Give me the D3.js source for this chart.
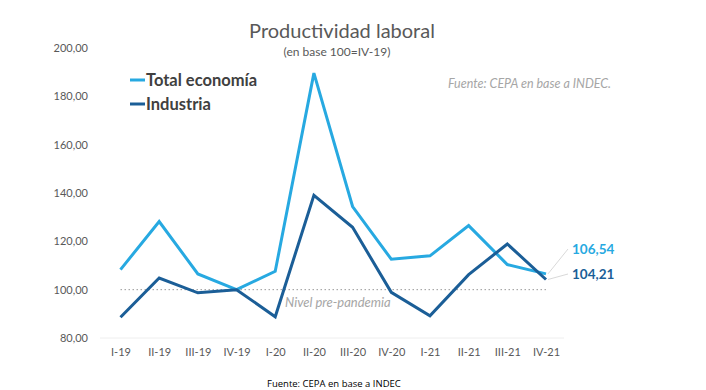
<!DOCTYPE html>
<html>
<head>
<meta charset="utf-8">
<script src="https://cdn.jsdelivr.net/npm/d3@7"></script>
<style>
  body { margin: 0; background: #fff; }
  svg { display: block; font-family: Lato, "Open Sans", sans-serif; }
</style>
</head>
<body>
<svg id="canvas" width="706" height="390"></svg>
<script>
// dati
const trimestri = ["I-19", "II-19", "III-19", "IV-19", "I-20", "II-20", "III-20", "IV-20", "I-21", "II-21", "III-21", "IV-21"];
const totaleEconomia = [108.3, 128.2, 106.5, 100.0, 107.6, 189.6, 134.4, 112.6, 114.0, 126.5, 110.4, 106.54];
const industria = [88.6, 104.8, 98.7, 100.0, 88.8, 139.0, 125.8, 98.9, 89.2, 106.2, 118.9, 104.21];
const tickY = [80, 100, 120, 140, 160, 180, 200];

const coloreChiaro = "#27a9e1";
const coloreScuro = "#1b5e97";

const svg = d3.select("#canvas");

const scalaX = d3.scalePoint().domain(trimestri).range([120.5, 546]);
const scalaY = d3.scaleLinear().domain([80, 200]).range([338, 48]);
const formato = v => d3.format(".2f")(v).replace(".", ",");

// titolo
svg.append("text")
  .attr("x", 342).attr("y", 38)
  .attr("text-anchor", "middle")
  .attr("font-size", 20).attr("fill", "#595959")
  .text("Productividad laboral");
svg.append("text")
  .attr("x", 337).attr("y", 56)
  .attr("text-anchor", "middle")
  .attr("font-size", 12).attr("fill", "#595959")
  .text("(en base 100=IV-19)");

// asse y (solo etichette)
svg.append("g")
  .selectAll("text")
  .data(tickY)
  .enter()
  .append("text")
  .attr("x", 88)
  .attr("y", d => scalaY(d) + 4)
  .attr("text-anchor", "end")
  .attr("font-size", 11).attr("fill", "#595959")
  .text(d => formato(d));

// asse x
const assex = svg.append("g")
  .attr("transform", `translate(0,${scalaY(80)})`)
  .call(d3.axisBottom(scalaX).tickSize(0).tickPadding(10));
assex.select(".domain").remove();
assex.selectAll("text")
  .attr("font-family", "Lato, 'Open Sans', sans-serif")
  .attr("font-size", 11).attr("fill", "#595959");
svg.append("line")
  .attr("x1", 100).attr("x2", 564)
  .attr("y1", scalaY(80)).attr("y2", scalaY(80))
  .attr("stroke", "#eeeeee").attr("stroke-width", 1);

// linea pre-pandemia
svg.append("line")
  .attr("x1", scalaX("I-19")).attr("x2", scalaX("IV-21"))
  .attr("y1", scalaY(100)).attr("y2", scalaY(100))
  .attr("stroke", "#9a9a9a").attr("stroke-width", 1)
  .attr("stroke-dasharray", "1.5,2.5");
svg.append("text")
  .attr("x", 285).attr("y", scalaY(100) + 17)
  .attr("font-size", 13).attr("font-style", "italic").attr("fill", "#a6a6a6")
  .text("Nivel pre-pandemia");

// serie
const linea = d3.line()
  .x((d, i) => scalaX(trimestri[i]))
  .y(d => scalaY(d));

[[totaleEconomia, coloreChiaro], [industria, coloreScuro]].forEach(([serie, colore]) => {
  svg.append("path")
    .datum(serie)
    .attr("d", linea)
    .attr("fill", "none")
    .attr("stroke", colore)
    .attr("stroke-width", 3)
    .attr("stroke-linejoin", "miter");
});

// etichette finali con linee guida
const xFine = scalaX("IV-21");
const etichette = [
  { v: totaleEconomia[11], y: 249, colore: coloreChiaro },
  { v: industria[11], y: 274, colore: coloreScuro }
];
etichette.forEach(e => {
  svg.append("line")
    .attr("x1", xFine + 2).attr("y1", scalaY(e.v))
    .attr("x2", 568).attr("y2", e.y)
    .attr("stroke", "#d9d9d9").attr("stroke-width", 1);
  svg.append("text")
    .attr("x", 572).attr("y", e.y + 5)
    .attr("font-size", 13.5).attr("font-weight", "bold").attr("fill", e.colore)
    .text(formato(e.v));
});

// legenda
const legenda = [["Total economía", coloreChiaro], ["Industria", coloreScuro]];
legenda.forEach(([nome, colore], i) => {
  const y = 80 + i * 24;
  svg.append("line")
    .attr("x1", 130).attr("x2", 145)
    .attr("y1", y).attr("y2", y)
    .attr("stroke", colore).attr("stroke-width", 3);
  svg.append("text")
    .attr("x", 146).attr("y", y + 6)
    .attr("font-size", 16.5).attr("font-weight", "bold").attr("fill", "#404040")
    .text(nome);
});

// fonti
svg.append("text")
  .attr("x", 448).attr("y", 88)
  .attr("font-size", 12.5).attr("font-style", "italic").attr("fill", "#a6a6a6")
  .text("Fuente: CEPA en base a INDEC.");
svg.append("text")
  .attr("x", 267).attr("y", 387)
  .attr("font-family", "'Open Sans', sans-serif")
  .attr("font-size", 9.5).attr("fill", "#000")
  .text("Fuente: CEPA en base a INDEC");
</script>
</body>
</html>
